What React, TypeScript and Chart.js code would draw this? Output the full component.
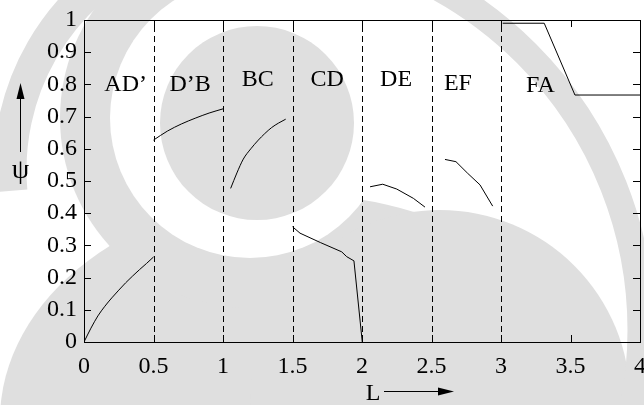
import React, { useEffect, useRef } from "react";
import { Chart, registerables } from "chart.js";

Chart.register(...registerables);

const FONT = '"Liberation Serif", "Times New Roman", serif';

// Axis ticks
const xTicks = [0, 0.5, 1, 1.5, 2, 2.5, 3, 3.5, 4];
const yTicks = [0, 0.1, 0.2, 0.3, 0.4, 0.5, 0.6, 0.7, 0.8, 0.9, 1];

// Segment boundaries (dashed verticals)
const boundaries = [0.5, 1, 1.5, 2, 2.5, 3];

// Segment curves of psi against L
const adX = [0, 0.05, 0.1, 0.15, 0.2, 0.25, 0.3, 0.35, 0.4, 0.45, 0.5];
const adY = [0, 0.043, 0.081, 0.111, 0.137, 0.161, 0.184, 0.205, 0.225, 0.244, 0.264];

const dbX = [0.5, 0.6, 0.7, 0.8, 0.9, 1.0];
const dbY = [0.627, 0.655, 0.677, 0.695, 0.711, 0.724];

const bcX = [1.055, 1.1, 1.146, 1.2, 1.254, 1.3, 1.35, 1.4, 1.451];
const bcY = [0.477, 0.525, 0.568, 0.6, 0.627, 0.647, 0.666, 0.68, 0.692];

const cdX = [1.5, 1.554, 1.7, 1.854, 1.89, 1.942, 2.002];
const cdY = [0.358, 0.338, 0.309, 0.28, 0.265, 0.252, 0];

const deX = [2.058, 2.149, 2.25, 2.37, 2.453];
const deY = [0.482, 0.49, 0.475, 0.446, 0.419];

const efX = [2.597, 2.676, 2.76, 2.849, 2.94];
const efY = [0.567, 0.56, 0.524, 0.488, 0.422];

const faX = [3.012, 3.311, 3.532, 4.0];
const faY = [0.99, 0.99, 0.767, 0.767];

// Region names and where they sit
const regionNames = ["AD\u2019", "D\u2019B", "BC", "CD", "DE", "EF", "FA"];
const regionX = [0.3, 0.763, 1.25, 1.75, 2.245, 2.69, 3.284];
const regionY = [0.798, 0.798, 0.814, 0.814, 0.814, 0.803, 0.795];

const pts = (xs: number[], ys: number[]) => xs.map((x, i) => ({ x, y: ys[i] }));

const curve = (xs: number[], ys: number[], smooth: boolean) => ({
  data: pts(xs, ys),
  showLine: true,
  borderColor: "#000",
  borderWidth: 1,
  pointRadius: 0,
  fill: false,
  cubicInterpolationMode: smooth ? ("monotone" as const) : ("default" as const),
  tension: 0,
});

const deg = Math.PI / 180;

// Light grey swirl logo painted behind the plot
const backdrop = {
  id: "backdrop",
  beforeDraw(chart: any) {
    const ctx = chart.ctx as CanvasRenderingContext2D;
    const g = "#dfdfdf";
    ctx.save();
    ctx.fillStyle = "#fff";
    ctx.fillRect(0, 0, chart.width, chart.height);
    ctx.fillStyle = g;
    ctx.strokeStyle = g;
    // lower swirl
    ctx.beginPath();
    ctx.ellipse(300, 420, 300, 225, 0, 0, Math.PI * 2);
    ctx.fill();
    ctx.beginPath();
    ctx.arc(440, 400, 190, 0, Math.PI * 2);
    ctx.fill();
    // left half of the grey ring round the centre
    ctx.beginPath();
    ctx.moveTo(250, 118);
    ctx.arc(250, 118, 190, 90 * deg, 270 * deg);
    ctx.closePath();
    ctx.fill();
    // outer left band
    ctx.lineWidth = 33;
    ctx.beginPath();
    ctx.arc(250, 170, 240, 175 * deg, 245 * deg);
    ctx.stroke();
    // right band
    ctx.lineWidth = 27;
    ctx.beginPath();
    ctx.arc(250, 330, 391, -90 * deg, 45 * deg);
    ctx.stroke();
    // white ring round the centre disk
    ctx.fillStyle = "#fff";
    ctx.beginPath();
    ctx.arc(250, 118, 140, 0, Math.PI * 2);
    ctx.fill();
    // centre disk
    ctx.fillStyle = g;
    ctx.beginPath();
    ctx.arc(257, 123, 97, 0, Math.PI * 2);
    ctx.fill();
    ctx.restore();
  },
};

const decorations = {
  id: "decorations",
  afterDatasetsDraw(chart: any) {
    const ctx = chart.ctx as CanvasRenderingContext2D;
    const { left, right, top, bottom } = chart.chartArea;
    const xs = chart.scales.x;
    const ys = chart.scales.y;
    ctx.save();
    ctx.strokeStyle = "#000";
    ctx.lineWidth = 1;

    // dashed boundaries
    ctx.setLineDash([6, 4]);
    boundaries.forEach((b) => {
      const px = Math.round(xs.getPixelForValue(b)) + 0.5;
      ctx.beginPath();
      ctx.moveTo(px, bottom);
      ctx.lineTo(px, top);
      ctx.stroke();
    });
    ctx.setLineDash([]);

    // frame
    ctx.strokeRect(Math.round(left) + 0.5, Math.round(top) + 0.5, Math.round(right - left), Math.round(bottom - top));

    // inward ticks on all sides
    const tl = 7;
    xTicks.forEach((v) => {
      const px = Math.round(xs.getPixelForValue(v)) + 0.5;
      ctx.beginPath();
      ctx.moveTo(px, bottom);
      ctx.lineTo(px, bottom - tl);
      ctx.moveTo(px, top);
      ctx.lineTo(px, top + tl);
      ctx.stroke();
    });
    yTicks.forEach((v) => {
      const py = Math.round(ys.getPixelForValue(v)) + 0.5;
      ctx.beginPath();
      ctx.moveTo(left, py);
      ctx.lineTo(left + tl, py);
      ctx.moveTo(right, py);
      ctx.lineTo(right - tl, py);
      ctx.stroke();
    });

    // region names
    ctx.fillStyle = "#000";
    ctx.font = `24px ${FONT}`;
    ctx.textAlign = "center";
    ctx.textBaseline = "middle";
    regionNames.forEach((name, i) => {
      ctx.fillText(name, xs.getPixelForValue(regionX[i]), ys.getPixelForValue(regionY[i]));
    });

    // x-axis title with right arrow
    ctx.fillText("L", 373, 394);
    ctx.beginPath();
    ctx.moveTo(384, 391.5);
    ctx.lineTo(440, 391.5);
    ctx.stroke();
    ctx.beginPath();
    ctx.moveTo(454, 391.5);
    ctx.lineTo(438, 387.5);
    ctx.lineTo(438, 395.5);
    ctx.closePath();
    ctx.fill();

    // y-axis title with upward arrow
    ctx.font = `28px ${FONT}`;
    ctx.fillText("\u03c8", 20.5, 171);
    ctx.beginPath();
    ctx.moveTo(20.5, 152);
    ctx.lineTo(20.5, 96);
    ctx.stroke();
    ctx.beginPath();
    ctx.moveTo(20.5, 83);
    ctx.lineTo(16.5, 99);
    ctx.lineTo(24.5, 99);
    ctx.closePath();
    ctx.fill();

    ctx.restore();
  },
};

const fmt = (v: number) => String(Number(v.toFixed(1)));

export default function App() {
  const ref = useRef<HTMLCanvasElement | null>(null);

  useEffect(() => {
    document.body.style.margin = "0";
    const canvas = ref.current;
    if (!canvas) return;
    const chart = new Chart(canvas, {
      type: "scatter",
      data: {
        datasets: [
          curve(adX, adY, true),
          curve(dbX, dbY, true),
          curve(bcX, bcY, true),
          curve(cdX, cdY, false),
          curve(deX, deY, false),
          curve(efX, efY, false),
          curve(faX, faY, false),
        ] as any,
      },
      options: {
        animation: false,
        responsive: false,
        devicePixelRatio: 1,
        layout: { padding: { top: 20, right: 4, left: 0, bottom: 0 } },
        plugins: { legend: { display: false }, tooltip: { enabled: false } },
        scales: {
          x: {
            type: "linear",
            min: 0,
            max: 4,
            afterBuildTicks: (s: any) => {
              s.ticks = xTicks.map((value) => ({ value }));
            },
            afterFit: (s: any) => {
              s.height = 63;
              s.paddingLeft = 0;
              s.paddingRight = 0;
            },
            grid: { display: false, drawTicks: false },
            border: { display: false },
            ticks: {
              color: "#000",
              font: { family: FONT, size: 24 },
              padding: 10,
              maxRotation: 0,
              callback: (v: any) => fmt(Number(v)),
            },
          },
          y: {
            type: "linear",
            min: 0,
            max: 1,
            afterBuildTicks: (s: any) => {
              s.ticks = yTicks.map((value) => ({ value }));
            },
            afterFit: (s: any) => {
              s.width = 84;
              s.paddingTop = 0;
              s.paddingBottom = 0;
            },
            grid: { display: false, drawTicks: false },
            border: { display: false },
            ticks: {
              color: "#000",
              font: { family: FONT, size: 24 },
              padding: 7,
              callback: (v: any) => fmt(Number(v)),
            },
          },
        },
      },
      plugins: [backdrop, decorations],
    });
    return () => chart.destroy();
  }, []);

  return <canvas ref={ref} width={644} height={405} style={{ display: "block" }} />;
}
